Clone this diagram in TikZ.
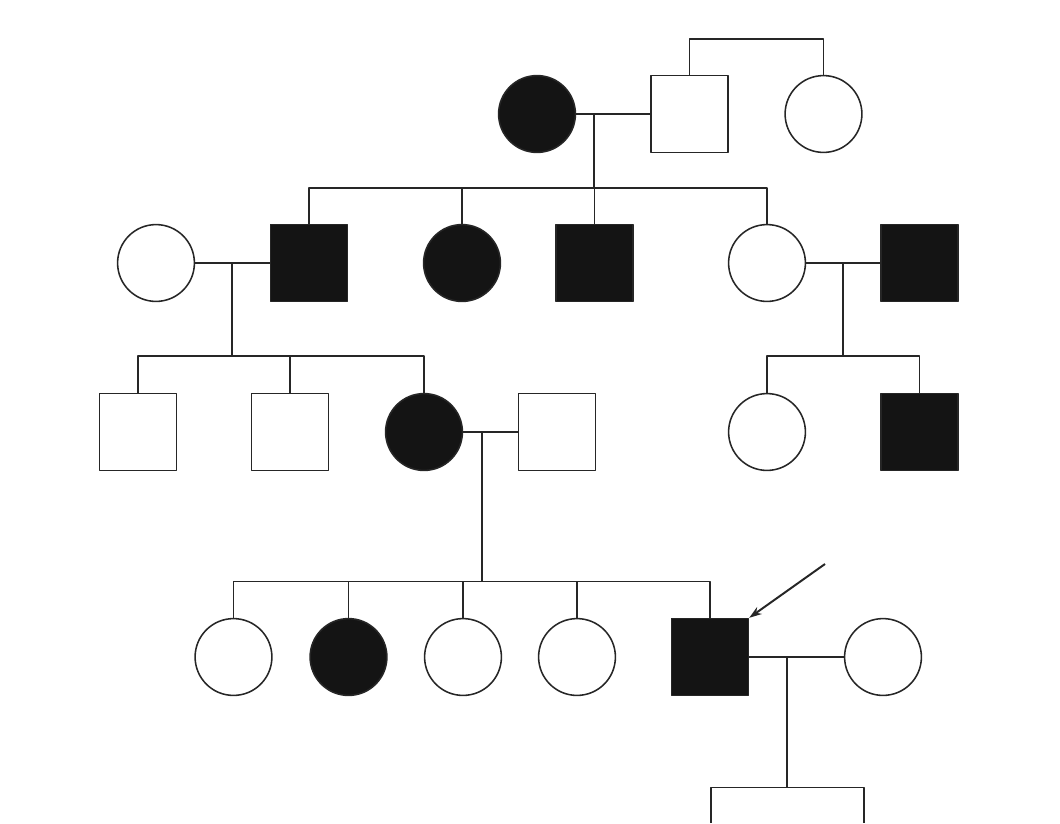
\documentclass[tikz,border=0pt]{standalone}
\usetikzlibrary{arrows.meta}
\begin{document}
\begin{tikzpicture}[x=0.025cm, y=-0.025cm, line join=round, >={Stealth[length=9pt,width=6pt]}, line width=1.1pt, draw=black!85]
            \tikzset{person/.style={draw=black!85, line width=1.1pt, inner sep=0pt, minimum size=1.92cm},
                     male/.style={person, rectangle},
                     female/.style={person, circle},
                     affected/.style={fill=black!92}}
            \useasboundingbox (0,0) rectangle (1060,823);
            % generation I
            \node[female, affected] (A1) at (537,114) {};
            \node[male] (A2) at (689.5,114) {};
            \node[female] (A3) at (823.5,114) {};
            % generation II
            \node[female] (B1) at (156,263) {};
            \node[male, affected] (B2) at (309,263) {};
            \node[female, affected] (B3) at (462,263) {};
            \node[male, affected] (B4) at (594.5,263) {};
            \node[female] (B5) at (767,263) {};
            \node[male, affected] (B6) at (919.5,263) {};
            % generation III
            \node[male] (C1) at (138,432) {};
            \node[male] (C2) at (290,432) {};
            \node[female, affected] (C3) at (424,432) {};
            \node[male] (C4) at (557,432) {};
            \node[female] (C5) at (767,432) {};
            \node[male, affected] (C6) at (919.5,432) {};
            % generation IV
            \node[female] (D1) at (233.5,657) {};
            \node[female, affected] (D2) at (348.5,657) {};
            \node[female] (D3) at (463,657) {};
            \node[female] (D4) at (577,657) {};
            \node[male, affected] (D5) at (710,657) {};
            \node[female] (D6) at (883,657) {};
            % parents of A2 and A3
            \coordinate (tA) at (756,39);
            \draw (A2) |- (tA) -| (A3);
            % A1 x A2
            \coordinate (mA) at (594,114);
            \coordinate (sA) at (594,188);
            \draw (A1) -- (A2);
            \draw (mA) -- (sA);
            \foreach \c in {B2,B3,B4,B5}
                \draw (sA) -| (\c);
            % B1 x B2
            \coordinate (mB) at (232,263);
            \coordinate (sB) at (232,356);
            \draw (B1) -- (B2);
            \draw (mB) -- (sB);
            \foreach \c in {C1,C2,C3}
                \draw (sB) -| (\c);
            % B5 x B6
            \coordinate (mBB) at (843,263);
            \coordinate (sBB) at (843,356);
            \draw (B5) -- (B6);
            \draw (mBB) -- (sBB);
            \foreach \c in {C5,C6}
                \draw (sBB) -| (\c);
            % C3 x C4
            \coordinate (mC) at (482,432);
            \coordinate (sC) at (482,581.5);
            \draw (C3) -- (C4);
            \draw (mC) -- (sC);
            \foreach \c in {D1,D2,D3,D4,D5}
                \draw (sC) -| (\c);
            % D5 x D6
            \coordinate (mD) at (787,657);
            \coordinate (sD) at (787,787.5);
            \coordinate (eL) at (711,823);
            \coordinate (eR) at (864,823);
            \draw (D5) -- (D6);
            \draw (mD) -- (sD);
            \draw (eL) |- (sD) -| (eR);
            % proband
            \coordinate (pr) at (825,564);
            \draw[->, line width=1.4pt] (pr) -- (D5.north east);
        \end{tikzpicture}
\end{document}
